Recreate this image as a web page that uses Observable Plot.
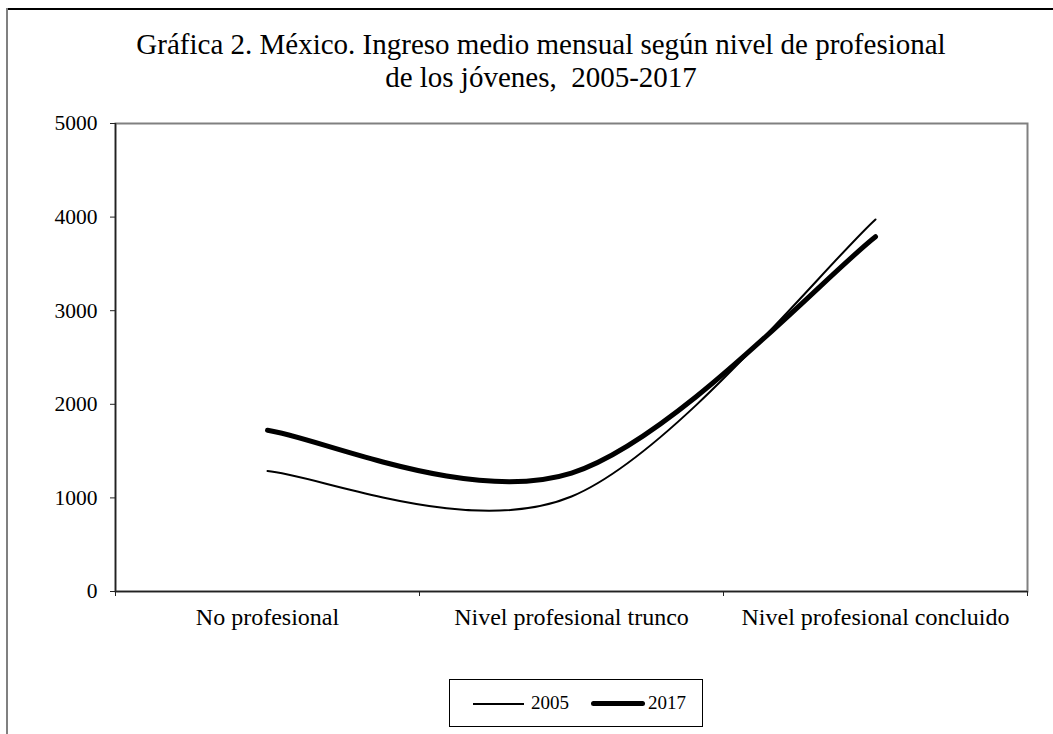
<!DOCTYPE html>
<html>
<head>
<meta charset="utf-8">
<script src="https://cdn.jsdelivr.net/npm/d3@7"></script>
<script src="https://cdn.jsdelivr.net/npm/@observablehq/plot@0.6"></script>
<style>
  html, body { margin: 0; padding: 0; background: #fff; }
  #wrap { position: relative; width: 1053px; height: 734px; overflow: hidden; font-family: "Liberation Serif", "Times New Roman", serif; color: #000; background: #fff; }
  #topline { position: absolute; left: 6px; top: 8px; width: 1060px; height: 2px; background: #000; z-index: 5; }
  #leftline { position: absolute; left: 6px; top: 8px; width: 2px; height: 740px; background: #808080; z-index: 5; }
  #title { position: absolute; left: 0; top: 28px; width: 1082px; text-align: center; font-size: 29px; line-height: 33px; }
  #chart { position: absolute; left: 0; top: 100px; }
  #legend { position: absolute; left: 449px; top: 679px; width: 252px; height: 46px; border: 1px solid #000; font-size: 19px; }
  .sw { position: absolute; background: #000; }
  .lt { position: absolute; top: 12px; line-height: 22px; }
</style>
</head>
<body>
<div id="wrap">
  <div id="topline"></div>
  <div id="leftline"></div>
  <div id="title">Gráfica 2. México. Ingreso medio mensual según nivel de profesional<br>de los jóvenes,&nbsp; 2005-2017</div>
  <div id="chart"></div>
  <div id="legend">
    <div class="sw" style="left:23px; top:23px; width:51px; height:2px;"></div>
    <div class="lt" style="left:81px;">2005</div>
    <div class="sw" style="left:141px; top:21px; width:54px; height:5px; border-radius:3px;"></div>
    <div class="lt" style="left:198px;">2017</div>
  </div>
</div>
<script>
const categories = ["No profesional", "Nivel profesional trunco", "Nivel profesional concluido"];
const values2005 = [1287, 1015, 3975];
const values2017 = [1722, 1265, 3790];
const yTicks = [0, 1000, 2000, 3000, 4000, 5000];
const bandEdges = [-0.5, 0.5, 1.5, 2.5];

const rows2005 = values2005.map((v, i) => ({i, value: v}));
const rows2017 = values2017.map((v, i) => ({i, value: v}));
const font = "Liberation Serif, Times New Roman, serif";

// Spreadsheet-style smoothed line: Bezier segments with control points at
// P[i] ± (P[i+1] - P[i-1]) / 6, endpoints duplicated.
function curveSmooth(context) {
  let pts = [];
  return {
    areaStart() {}, areaEnd() {},
    lineStart() { pts = []; },
    point(x, y) { pts.push([+x, +y]); },
    lineEnd() {
      const n = pts.length;
      if (!n) return;
      context.moveTo(pts[0][0], pts[0][1]);
      for (let i = 0; i < n - 1; i++) {
        const p0 = pts[Math.max(0, i - 1)], p1 = pts[i], p2 = pts[i + 1], p3 = pts[Math.min(n - 1, i + 2)];
        context.bezierCurveTo(
          p1[0] + (p2[0] - p0[0]) / 6, p1[1] + (p2[1] - p0[1]) / 6,
          p2[0] - (p3[0] - p1[0]) / 6, p2[1] - (p3[1] - p1[1]) / 6,
          p2[0], p2[1]
        );
      }
    }
  };
}

const chart = Plot.plot({
  width: 1053,
  height: 530,
  marginTop: 23,
  marginBottom: 39,
  marginLeft: 115,
  marginRight: 26,
  style: {fontFamily: font, color: "#000", background: "transparent", overflow: "visible"},
  x: {type: "linear", domain: [-0.5, 2.5]},
  y: {domain: [0, 5000]},
  marks: [
    Plot.frame({stroke: "#808080", strokeWidth: 2}),
    Plot.ruleY([0], {stroke: "#222", strokeWidth: 1.5}),
    Plot.ruleX([-0.5], {stroke: "#222", strokeWidth: 1.5}),
    Plot.axisY({ticks: yTicks, tickSize: 5, tickPadding: 13, fontSize: 21.5, tickFormat: d => String(d), label: null, stroke: "#222"}),
    Plot.axisX({ticks: bandEdges, tickSize: 5, tickFormat: () => "", label: null, stroke: "#222"}),
    Plot.axisX({ticks: [0, 1, 2], tickSize: 0, tickPadding: 16, fontSize: 24, tickFormat: i => categories[i], label: null}),
    Plot.line(rows2005, {x: "i", y: "value", curve: curveSmooth, stroke: "#000", strokeWidth: 2}),
    Plot.line(rows2017, {x: "i", y: "value", curve: curveSmooth, stroke: "#000", strokeWidth: 5})
  ]
});
document.getElementById("chart").appendChild(chart);
</script>
</body>
</html>
